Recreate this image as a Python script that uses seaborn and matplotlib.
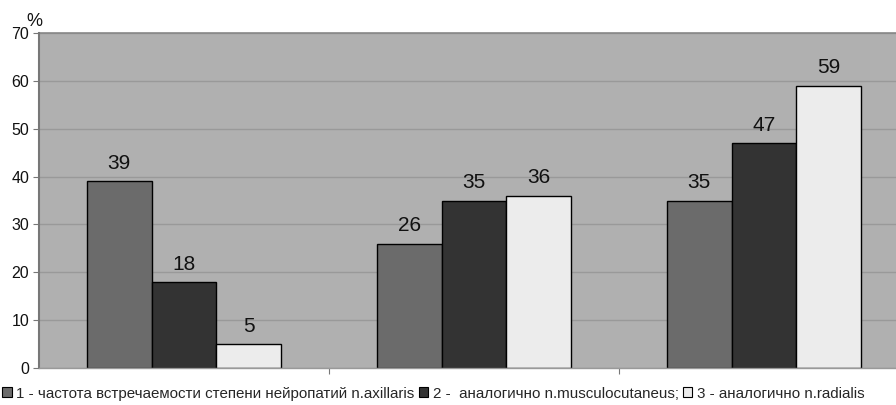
import matplotlib
matplotlib.use("Agg")
import matplotlib.pyplot as plt
from matplotlib.patches import Patch
from matplotlib.ticker import FixedLocator, NullFormatter
import seaborn as sns
import pandas as pd

groups = ["A", "B", "C"]
series = [
    "1 - частота встречаемости степени нейропатий n.axillaris",
    "2 -  аналогично n.musculocutaneus;",
    "3 - аналогично n.radialis",
]
values_axillaris = [39, 26, 35]
values_musculocutaneus = [18, 35, 47]
values_radialis = [5, 36, 59]
colors = ["#6b6b6b", "#333333", "#ececec"]

rows = []
for name, vals in zip(series, [values_axillaris, values_musculocutaneus, values_radialis]):
    for g, v in zip(groups, vals):
        rows.append({"group": g, "series": name, "value": v})
df = pd.DataFrame(rows)

sns.set_theme(style="white")
plt.rcParams["font.family"] = ["Liberation Sans", "DejaVu Sans"]

fig = plt.figure(figsize=(8.96, 4.05), dpi=100)
ax = fig.add_axes([0.0435, 0.0914, 0.971, 0.827])
ax.set_facecolor("#b0b0b0")

sns.barplot(data=df, x="group", y="value", hue="series", palette=colors,
            width=0.67, edgecolor="black", linewidth=1.0, ax=ax,
            legend=False, saturation=1)

for cont in ax.containers:
    ax.bar_label(cont, labels=[f"{int(v)}" for v in cont.datavalues],
                 padding=6, fontsize=15, color="#111111")

ax.set_ylim(0, 70)
ax.set_xlim(-0.5, 2.5)
ax.set_yticks(range(0, 71, 10))
ax.yaxis.grid(True, color="#999999", linewidth=1.0)
ax.set_axisbelow(True)
ax.set_xlabel("")
ax.set_ylabel("")
ax.set_xticks([])
ax.xaxis.set_minor_locator(FixedLocator([0.5, 1.5]))
ax.xaxis.set_minor_formatter(NullFormatter())
ax.tick_params(axis="x", which="minor", bottom=True, length=4, width=0.8,
               color="#777777", direction="out")
ax.tick_params(axis="y", left=True, length=4, width=0.8, color="#777777",
               labelsize=11.5, pad=3, labelcolor="#111111")

for side in ["top", "right"]:
    ax.spines[side].set_visible(False)
ax.spines["left"].set_color("#777777")
ax.spines["left"].set_linewidth(1.5)
ax.spines["bottom"].set_color("#999999")
ax.spines["bottom"].set_linewidth(1.0)
ax.plot([0, 1], [1, 1], transform=ax.transAxes, color="#888888",
        linewidth=1.2, clip_on=False)

fig.text(0.029, 0.935, "%", fontsize=13, color="#111111")

handles = [Patch(facecolor=c, edgecolor="black", linewidth=0.8) for c in colors]
fig.legend(handles, series, loc="lower left", bbox_to_anchor=(-0.004, -0.004),
           ncol=3, frameon=False, fontsize=10.9, handlelength=0.6,
           handleheight=0.6, handletextpad=0.3, columnspacing=0.3,
           borderaxespad=0)

fig.savefig("out.png", dpi=100)
